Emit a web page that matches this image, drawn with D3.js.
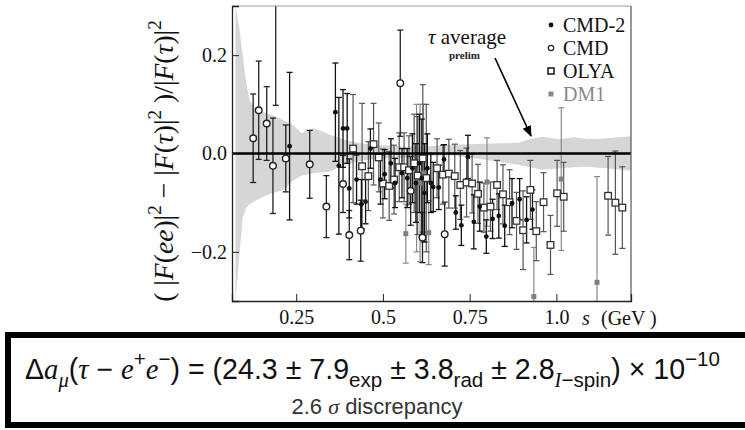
<!DOCTYPE html>
<html><head><meta charset="utf-8">
<script src="https://cdn.jsdelivr.net/npm/d3@7/dist/d3.min.js"></script>
<style>body{margin:0;background:#fff}svg text{white-space:pre}</style>
</head><body>
<svg id="c" width="745" height="430"></svg>
<script>
// ---------------- data ----------------
const xTicks = [0.25, 0.5, 0.75, 1.0];
const xTickLabels = ["0.25", "0.5", "0.75", "1.0"];
const yTicks = [-0.2, 0.0, 0.2];
const yTickLabels = ["\u22120.2", "0.0", "0.2"];
const xMinorTicks = [0.1,0.15,0.2,0.3,0.35,0.4,0.45,0.55,0.6,0.65,0.7,0.8,0.85,0.9,0.95,1.05,1.1,1.15,1.2];
const yMinorTicks = [-0.25,-0.15,-0.1,-0.05,0.05,0.1,0.15,0.25];

// tau-average band (upper / lower edge)
const bandS  = [0.075,0.087,0.096,0.106,0.116,0.135,0.164,0.183,0.212,0.241,0.265,0.298,0.327,0.347,0.375,0.395,0.442,0.491,0.597,0.635,0.70,0.80,0.89,0.923,0.96,1.01,1.05,1.09,1.144,1.215];
const bandHi = [0.30,0.25,0.20,0.143,0.108,0.088,0.082,0.078,0.068,0.058,0.041,0.052,0.044,0.038,0.032,0.027,0.020,0.017,0.013,0.015,0.018,0.020,0.022,0.029,0.034,0.029,0.033,0.029,0.031,0.035];
const bandLo = [-0.30,-0.20,-0.13,-0.11,-0.103,-0.095,-0.085,-0.08,-0.075,-0.055,-0.045,-0.040,-0.038,-0.037,-0.027,-0.022,-0.014,-0.010,-0.007,-0.005,-0.004,-0.013,-0.023,-0.028,-0.033,-0.030,-0.028,-0.027,-0.030,-0.035];

// CMD-2 (filled circles)
const cmd2S = [0.231,0.363,0.373,0.385,0.397,0.403,0.424,0.438,0.450,0.464,0.493,0.505,0.523,0.535,0.555,0.570,0.585,0.595,0.605,0.612,0.620,0.628,0.638,0.645,0.661,0.676,0.710,0.726,0.745,0.762,0.779,0.798,0.816,0.834,0.851,0.872,0.894,0.914,0.931];
const cmd2V = [0.015,0.084,-0.025,0.051,0.051,-0.071,-0.053,-0.103,-0.098,0.010,-0.053,-0.042,-0.020,-0.060,-0.040,-0.050,-0.030,-0.060,-0.020,-0.050,-0.080,-0.030,-0.060,-0.068,-0.069,-0.012,-0.120,-0.146,-0.007,-0.139,-0.108,-0.169,-0.133,-0.127,-0.147,-0.101,-0.093,-0.135,-0.114];
const cmd2E = [0.150,0.100,0.139,0.079,0.071,0.060,0.050,0.050,0.045,0.040,0.050,0.050,0.050,0.050,0.050,0.060,0.070,0.080,0.100,0.120,0.100,0.070,0.060,0.050,0.045,0.030,0.034,0.041,0.044,0.055,0.050,0.034,0.040,0.045,0.042,0.050,0.042,0.047,0.040];

// CMD (open circles)
const cmdS = [0.126,0.142,0.165,0.183,0.191,0.220,0.289,0.337,0.385,0.403,0.436,0.550,0.580,0.614,0.678];
const cmdV = [0.031,0.088,0.061,-0.025,0.360,-0.010,-0.022,-0.108,-0.062,-0.166,-0.157,0.143,-0.076,-0.171,-0.164];
const cmdE = [0.090,0.100,0.075,0.097,0.262,0.068,0.069,0.063,0.058,0.050,0.062,0.108,0.070,0.051,0.065];

// OLYA (open squares)
const olyaS = [0.414,0.440,0.458,0.473,0.488,0.500,0.518,0.532,0.547,0.561,0.575,0.590,0.600,0.615,0.625,0.656,0.673,0.690,0.707,0.723,0.741,0.757,0.774,0.791,0.810,0.829,0.846,0.865,0.885,0.904,0.925,0.942,0.963,0.983,1.002,1.021,1.149,1.170,1.190];
const olyaV = [0.010,-0.026,-0.046,0.019,-0.008,-0.061,-0.066,-0.053,-0.028,-0.028,-0.034,-0.020,-0.045,-0.010,-0.050,-0.030,-0.043,-0.041,-0.046,-0.064,-0.059,-0.061,-0.082,-0.110,-0.108,-0.064,-0.083,-0.099,-0.137,-0.156,-0.074,-0.158,-0.099,-0.186,-0.081,-0.088,-0.086,-0.100,-0.110];
const olyaE = [0.110,0.128,0.070,0.083,0.070,0.070,0.070,0.070,0.070,0.070,0.070,0.100,0.120,0.150,0.150,0.060,0.060,0.070,0.065,0.070,0.070,0.060,0.060,0.050,0.050,0.050,0.060,0.066,0.058,0.080,0.060,0.060,0.060,0.060,0.067,0.070,0.080,0.105,0.083];

// DM1 (grey squares)
const dm1S = [0.566,0.597,0.607,0.617,0.632,0.800,0.935,1.014,1.117];
const dm1V = [-0.163,-0.050,-0.060,-0.040,-0.161,-0.058,-0.291,-0.052,-0.262];
const dm1E = [0.060,0.150,0.160,0.140,0.065,0.090,0.100,0.145,0.215];

const legendNames = ["CMD-2", "CMD", "OLYA", "DM1"];

// ---------------- drawing ----------------
const svg = d3.select("#c");
const L = 232, R = 631, T = 6, B = 301;
const x = d3.scaleLinear().domain([0.065, 1.215]).range([L, R]);
const y = d3.scaleLinear().domain([-0.3, 0.3]).range([B, T]);

const defs = svg.append("defs");
defs.append("clipPath").attr("id", "clip")
  .append("rect").attr("x", L).attr("y", T).attr("width", R - L).attr("height", B - T);

const plot = svg.append("g").attr("clip-path", "url(#clip)");

// band
const band = bandS.map((s, i) => ({s, hi: bandHi[i], lo: bandLo[i]}));
plot.append("path").datum(band)
  .attr("d", d3.area().x(d => x(d.s)).y0(d => y(d.lo)).y1(d => y(d.hi)))
  .attr("fill", "#d6d6d6");

function series(S, V, E) { return S.map((s, i) => ({s, v: V[i], e: E[i]})); }
const dCmd2 = series(cmd2S, cmd2V, cmd2E);
const dCmd = series(cmdS, cmdV, cmdE);
const dOlya = series(olyaS, olyaV, olyaE);
const dDm1 = series(dm1S, dm1V, dm1E);

function errBars(data, color, w) {
  const g = plot.append("g").attr("stroke", color).attr("stroke-width", w).attr("fill", "none");
  data.forEach(d => {
    const xx = x(d.s);
    g.append("line").attr("x1", xx).attr("x2", xx).attr("y1", y(d.v - d.e)).attr("y2", y(d.v + d.e));
    g.append("line").attr("x1", xx - 3).attr("x2", xx + 3).attr("y1", y(d.v - d.e)).attr("y2", y(d.v - d.e));
    g.append("line").attr("x1", xx - 3).attr("x2", xx + 3).attr("y1", y(d.v + d.e)).attr("y2", y(d.v + d.e));
  });
}
errBars(dDm1, "#8a8a8a", 1.2);
errBars(dOlya, "#555", 1.2);
errBars(dCmd, "#222", 1.3);
errBars(dCmd2, "#111", 1.3);

// zero line
svg.append("line").attr("x1", L).attr("x2", R).attr("y1", y(0)).attr("y2", y(0))
  .attr("stroke", "#000").attr("stroke-width", 2.6);

// markers
plot.selectAll(".dm1").data(dDm1).enter().append("rect")
  .attr("x", d => x(d.s) - 2.5).attr("y", d => y(d.v) - 2.5).attr("width", 5).attr("height", 5)
  .attr("fill", "#7f7f7f");
plot.selectAll(".oly").data(dOlya).enter().append("rect")
  .attr("x", d => x(d.s) - 3.3).attr("y", d => y(d.v) - 3.3).attr("width", 6.6).attr("height", 6.6)
  .attr("fill", "#fff").attr("stroke", "#333").attr("stroke-width", 1.3);
plot.selectAll(".cmd").data(dCmd).enter().append("circle")
  .attr("cx", d => x(d.s)).attr("cy", d => y(d.v)).attr("r", 3.3)
  .attr("fill", "#fff").attr("stroke", "#222").attr("stroke-width", 1.4);
plot.selectAll(".cmd2").data(dCmd2).enter().append("circle")
  .attr("cx", d => x(d.s)).attr("cy", d => y(d.v)).attr("r", 2.4)
  .attr("fill", "#111");

// frame
svg.append("line").attr("x1", L).attr("x2", R).attr("y1", T).attr("y2", T).attr("stroke", "#9a9a9a").attr("stroke-width", 1);
svg.append("line").attr("x1", R).attr("x2", R).attr("y1", T).attr("y2", B).attr("stroke", "#555").attr("stroke-width", 1.2);

const serif = "'Liberation Serif', 'DejaVu Serif', serif";
const sans = "'Liberation Sans', 'DejaVu Sans', sans-serif";

// axes
const gx = svg.append("g").attr("transform", `translate(0,${B})`);
gx.call(d3.axisBottom(x).tickValues(xMinorTicks).tickSize(-3.5).tickFormat(""));
gx.call(d3.axisBottom(x).tickValues(xTicks).tickSize(-7).tickPadding(9).tickFormat((d, i) => xTickLabels[i]));
const gy = svg.append("g").attr("transform", `translate(${L},0)`);
gy.call(d3.axisLeft(y).tickValues(yMinorTicks).tickSize(-3.5).tickFormat(""));
gy.call(d3.axisLeft(y).tickValues(yTicks).tickSize(-7).tickPadding(5).tickFormat((d, i) => yTickLabels[i]));
svg.selectAll(".domain").attr("stroke", "#222").attr("stroke-width", 1.3);
svg.selectAll(".tick line").attr("stroke", "#222").attr("stroke-width", 1);
svg.selectAll(".tick text").attr("font-family", serif).attr("font-size", 20).attr("fill", "#111");
gx.selectAll(".tick text").attr("dy", "0.71em");

// x axis title
const xt = svg.append("text").attr("y", 325).attr("font-family", serif).attr("font-size", 20).attr("fill", "#111");
xt.append("tspan").attr("x", 582).attr("font-style", "italic").text("s");
xt.append("tspan").attr("x", 601).text("(GeV )");

// y axis title (rotated), fitted to ~280 px
const ySegs = [["( |", 0, 0], ["F", 1, 0], ["(", 0, 0], ["ee", 1, 0], [")|", 0, 0], ["2", 0, 1],
  [" \u2212 |", 0, 0], ["F", 1, 0], ["(", 0, 0], ["\u03c4", 1, 0], [")|", 0, 0], ["2", 0, 1],
  [" )/|", 0, 0], ["F", 1, 0], ["(", 0, 0], ["\u03c4", 1, 0], [")|", 0, 0], ["2", 0, 1]];
function yTitle(size) {
  const g = svg.append("g").attr("transform", "translate(173,161) rotate(-90)");
  const t = g.append("text").attr("text-anchor", "middle").attr("font-family", serif).attr("font-size", size).attr("fill", "#111");
  let prev = 0;
  ySegs.forEach(([s, it, sup]) => {
    const off = sup ? -0.45 * size : 0;
    const ts = t.append("tspan").attr("dy", off - prev).text(s);
    if (it) ts.attr("font-style", "italic");
    if (sup) ts.attr("font-size", size * 0.7);
    prev = off;
  });
  return g;
}
let yg = yTitle(20);
const yw = yg.select("text").node().getComputedTextLength();
yg.remove();
yTitle(20 * 282 / yw);

// legend
const lg = svg.append("g");
const ly = [25, 48, 71, 94];
lg.append("circle").attr("cx", 551).attr("cy", ly[0]).attr("r", 2.4).attr("fill", "#111");
lg.append("circle").attr("cx", 551).attr("cy", ly[1]).attr("r", 2.7).attr("fill", "#fff").attr("stroke", "#222").attr("stroke-width", 1.2);
lg.append("rect").attr("x", 548).attr("y", ly[2] - 3).attr("width", 6).attr("height", 6).attr("fill", "#fff").attr("stroke", "#222").attr("stroke-width", 1.6);
lg.append("rect").attr("x", 548.5).attr("y", ly[3] - 2.5).attr("width", 5).attr("height", 5).attr("fill", "#888");
legendNames.forEach((n, i) => {
  lg.append("text").attr("x", 563).attr("y", ly[i] + 6.5).attr("font-family", serif).attr("font-size", 20)
    .attr("fill", i === 3 ? "#888" : "#111").text(n);
});

// tau average annotation
const ta = svg.append("text").attr("x", 428).attr("y", 44).attr("font-family", serif).attr("font-size", 21).attr("fill", "#111");
ta.append("tspan").attr("font-style", "italic").text("\u03c4");
ta.append("tspan").text(" average");
svg.append("text").attr("x", 449).attr("y", 59).attr("font-family", serif).attr("font-size", 11).attr("font-weight", "bold").attr("fill", "#222").text("prelim");
defs.append("marker").attr("id", "ah").attr("viewBox", "0 0 10 10").attr("refX", 9).attr("refY", 5)
  .attr("markerWidth", 7).attr("markerHeight", 7).attr("orient", "auto")
  .append("path").attr("d", "M0,1 L10,5 L0,9 z").attr("fill", "#000");
svg.append("line").attr("x1", 495).attr("y1", 58).attr("x2", 531).attr("y2", 136)
  .attr("stroke", "#000").attr("stroke-width", 1.6).attr("marker-end", "url(#ah)");

// bottom box
svg.append("rect").attr("x", 8).attr("y", 335).attr("width", 742).attr("height", 90)
  .attr("fill", "#fff").attr("stroke", "#000").attr("stroke-width", 6);

function rich(parent, segs, size, xPos, yPos) {
  const t = parent.append("text").attr("x", xPos).attr("y", yPos).attr("font-family", sans).attr("font-size", size).attr("fill", "#111");
  let cur = 0;
  segs.forEach(s => {
    const off = s.sup ? -0.45 * size : s.sub ? 0.28 * size : 0;
    const ts = t.append("tspan").attr("dy", off - cur).text(s.t);
    if (s.sup || s.sub) ts.attr("font-size", size * 0.72);
    if (s.it) ts.attr("font-style", "italic").attr("font-family", serif);
    cur = off;
  });
  return t;
}
const fSegs = [
  {t: "\u0394"}, {t: "a", it: 1}, {t: "\u03bc", it: 1, sub: 1}, {t: "("}, {t: "\u03c4", it: 1}, {t: " \u2212 "},
  {t: "e", it: 1}, {t: "+", sup: 1}, {t: "e", it: 1}, {t: "\u2212", sup: 1}, {t: ") = (24.3 \u00b1 7.9"},
  {t: "exp", sub: 1}, {t: " \u00b1 3.8"}, {t: "rad", sub: 1}, {t: " \u00b1 2.8"}, {t: "I", it: 1, sub: 1},
  {t: "\u2212spin", sub: 1}, {t: ") \u00d7 10"}, {t: "\u221210", sup: 1}
];
let f = rich(svg, fSegs, 26, 25, 379);
const w = f.node().getBBox().width;
f.remove();
f = rich(svg, fSegs, 26 * 695 / w, 25, 379);

const disc = svg.append("text").attr("x", 377).attr("y", 414).attr("text-anchor", "middle")
  .attr("font-family", sans).attr("font-size", 22).attr("fill", "#333");
disc.append("tspan").text("2.6 ");
disc.append("tspan").attr("font-style", "italic").attr("font-family", serif).text("\u03c3");
disc.append("tspan").text(" discrepancy");
</script>
</body></html>
